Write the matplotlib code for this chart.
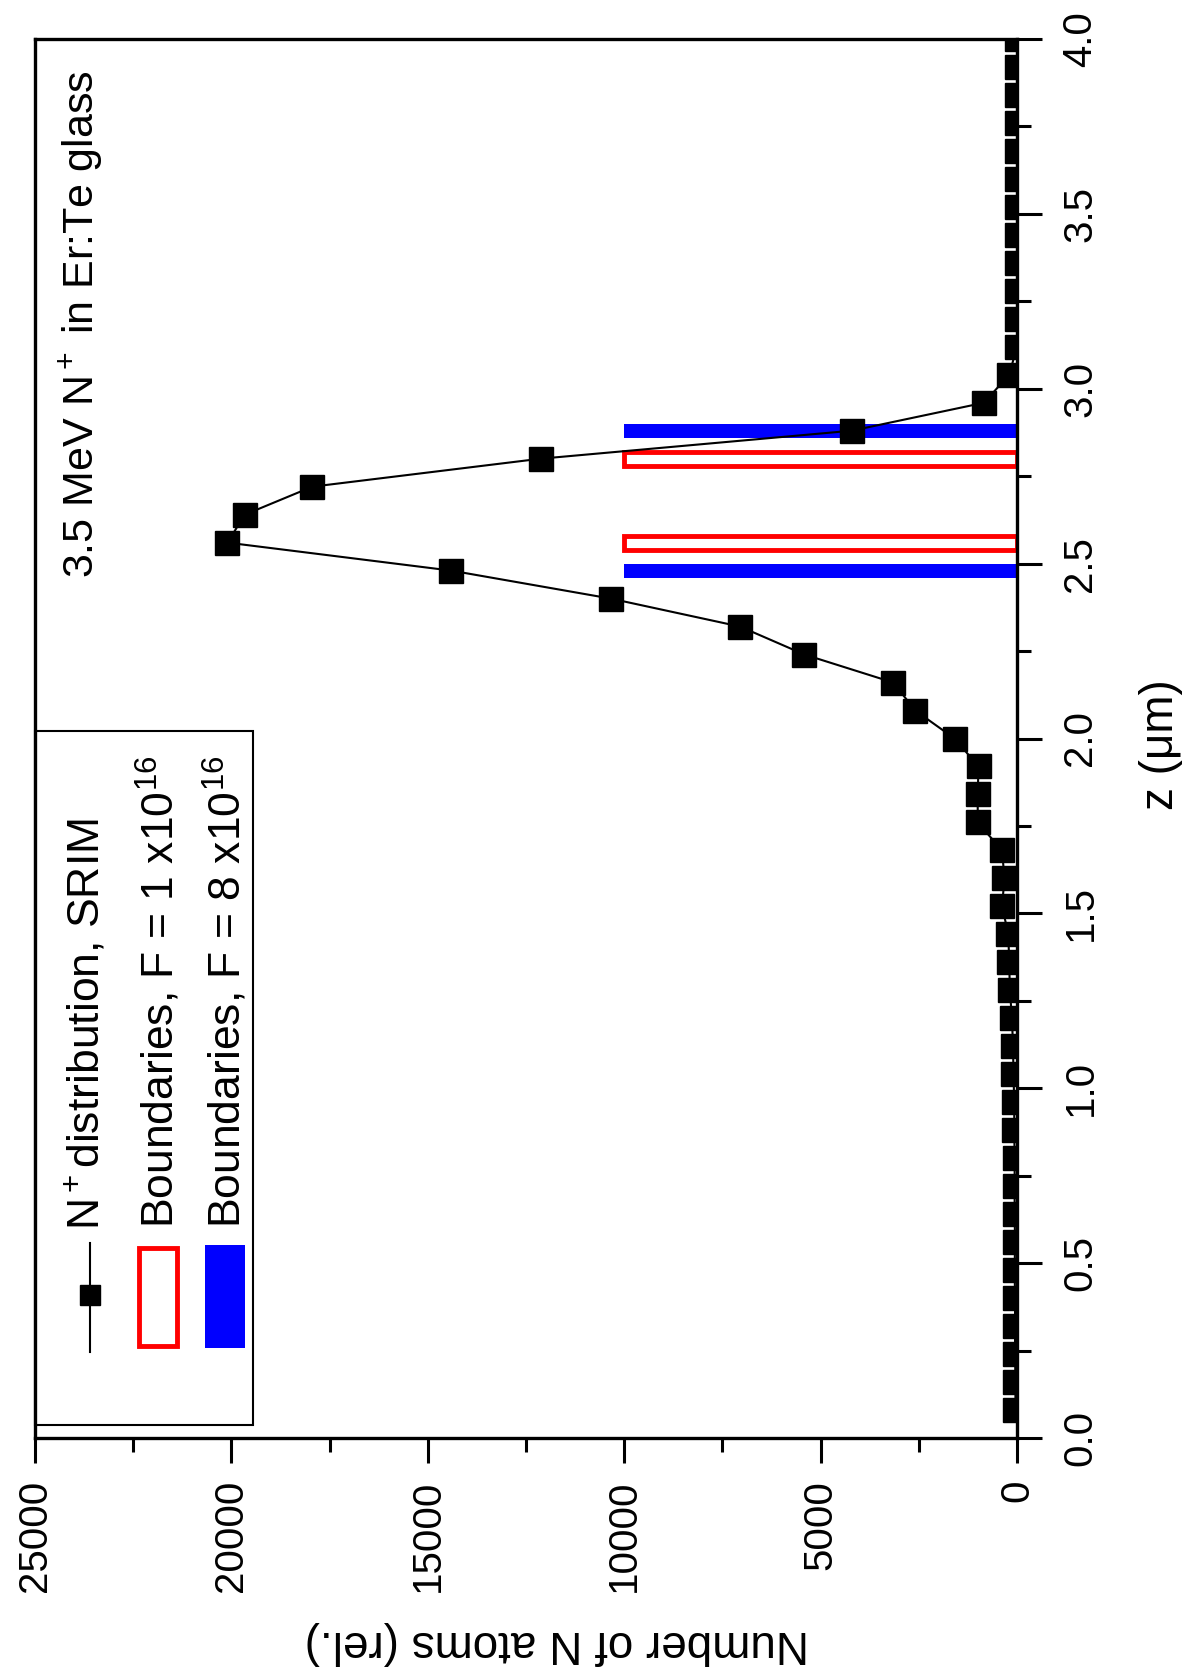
import matplotlib
matplotlib.use('Agg')
import matplotlib.pyplot as plt
from matplotlib.patches import Rectangle
from matplotlib.lines import Line2D

plt.rcParams['font.family'] = ['Liberation Sans', 'DejaVu Sans']
plt.rcParams['mathtext.fontset'] = 'custom'
plt.rcParams['mathtext.rm'] = 'Liberation Sans'
plt.rcParams['mathtext.it'] = 'Liberation Sans:italic'
plt.rcParams['mathtext.default'] = 'regular'

# SRIM depth profile (z in um, counts rel.)
depth = [0.08, 0.16, 0.24, 0.32, 0.40, 0.48, 0.56, 0.64, 0.72, 0.80,
         0.88, 0.96, 1.04, 1.12, 1.20, 1.28, 1.36, 1.44, 1.52, 1.60,
         1.68, 1.76, 1.84, 1.92, 2.00, 2.08, 2.16, 2.24, 2.32, 2.40,
         2.48, 2.56, 2.64, 2.72, 2.80, 2.88, 2.96, 3.04, 3.12, 3.20,
         3.28, 3.36, 3.44, 3.52, 3.60, 3.68, 3.76, 3.84, 3.92, 4.00]
atoms = [40, 40, 50, 50, 50, 60, 50, 60, 60, 60,
         70, 70, 90, 100, 130, 180, 200, 220, 380, 320,
         380, 1000, 1000, 980, 1590, 2590, 3150, 5410, 7050, 10340,
         14400, 20100, 19660, 17940, 12130, 4210, 840, 200, 0, 0,
         0, 0, 0, 0, 0, 0, 0, 0, 0, 0]

# boundaries
f1_bounds = [2.56, 2.80]
f8_bounds = [2.48, 2.88]
bound_extent = 10000

count_ticks = [0, 5000, 10000, 15000, 20000, 25000]
count_labels = ['0', '5000', '10000', '15000', '20000', '25000']
depth_ticks = [0.0, 0.5, 1.0, 1.5, 2.0, 2.5, 3.0, 3.5, 4.0]
depth_labels = ['0.0', '0.5', '1.0', '1.5', '2.0', '2.5', '3.0', '3.5', '4.0']

W, H = 1185, 1679
fig = plt.figure(figsize=(W / 100, H / 100), dpi=100)
ax = fig.add_axes([35 / W, 241 / H, 982 / W, 1399 / H])

ax.barh(f1_bounds, bound_extent, height=0.04, left=0, facecolor='white',
        edgecolor='#ff0000', linewidth=3.5, zorder=2)
ax.barh(f8_bounds, bound_extent, height=0.04, left=0, color='#0000ff',
        linewidth=0, zorder=2)
ax.plot(atoms, depth, '-', color='black', lw=1.5, marker='s', ms=17,
        zorder=3)

ax.set_xlim(25000, 0)
ax.set_ylim(0, 4)

ax.set_xticks(count_ticks, labels=count_labels, rotation=90, fontsize=29)
ax.set_xticks([2500, 7500, 12500, 17500, 22500], minor=True)
ax.set_yticks(depth_ticks, labels=depth_labels, rotation=90, va='center',
              fontsize=29)
ax.set_yticks([0.25, 0.75, 1.25, 1.75, 2.25, 2.75, 3.25, 3.75], minor=True)

ax.tick_params(axis='both', which='both', direction='out', width=2.2,
               color='black')
ax.tick_params(axis='both', which='major', length=18)
ax.tick_params(axis='both', which='minor', length=10)
ax.tick_params(axis='x', which='both', bottom=True, top=False, pad=12)
ax.tick_params(axis='y', which='both', left=False, right=True,
               labelleft=False, labelright=True, pad=14)

for sp in ax.spines.values():
    sp.set_linewidth(2.4)

ax.set_xlabel('Number of N atoms (rel.)', fontsize=33, rotation=180)
ax.xaxis.set_label_coords(0.5316, -0.1465)
ax.xaxis.label.set_va('center')
ax.xaxis.label.set_ha('center')

ax.set_ylabel('z (μm)', fontsize=33, rotation=90)
ax.yaxis.set_label_position('right')
ax.yaxis.set_label_coords((1161 - 35) / 982, (1438 - 745) / 1399)
ax.yaxis.label.set_rotation_mode('default')
ax.yaxis.label.set_va('center')
ax.yaxis.label.set_ha('center')

ax.text(0.0591, 0.9778, '3.5 MeV N$^+$ in Er:Te glass', rotation=90,
        rotation_mode='anchor', ha='right', va='baseline', fontsize=31,
        transform=ax.transAxes)

# rotated legend drawn by hand
ax.add_patch(Rectangle((0.0, 0.0093), 0.222, 0.4961, transform=ax.transAxes,
                       fill=False, ec='black', lw=1.5, zorder=4, clip_on=False))
ax.add_line(Line2D([0.056, 0.056], [0.0615, 0.1394], transform=ax.transAxes,
                   color='black', lw=1.5, zorder=5))
ax.add_line(Line2D([0.056], [0.1022], transform=ax.transAxes, color='black',
                   marker='s', ms=14, zorder=5))
ax.add_patch(Rectangle((0.1064, 0.0661), 0.0387, 0.0700, transform=ax.transAxes,
                       facecolor='white', ec='#ff0000', lw=3.5, zorder=5))
ax.add_patch(Rectangle((0.1731, 0.0643), 0.0407, 0.0736, transform=ax.transAxes,
                       facecolor='#0000ff', lw=0, zorder=5))

legend_texts = ['N$^+$distribution, SRIM',
                'Boundaries, F = 1 x10$^{16}$',
                'Boundaries, F = 8 x10$^{16}$']
legend_x = [0.0650, 0.1413, 0.2096]
legend_y = [0.1487, 0.1501, 0.1501]
for t, lx, ly in zip(legend_texts, legend_x, legend_y):
    ax.text(lx, ly, t, rotation=90, rotation_mode='anchor', ha='left',
            va='baseline', fontsize=32, transform=ax.transAxes, zorder=6)

fig.savefig('out.png', dpi=100, facecolor='white')
